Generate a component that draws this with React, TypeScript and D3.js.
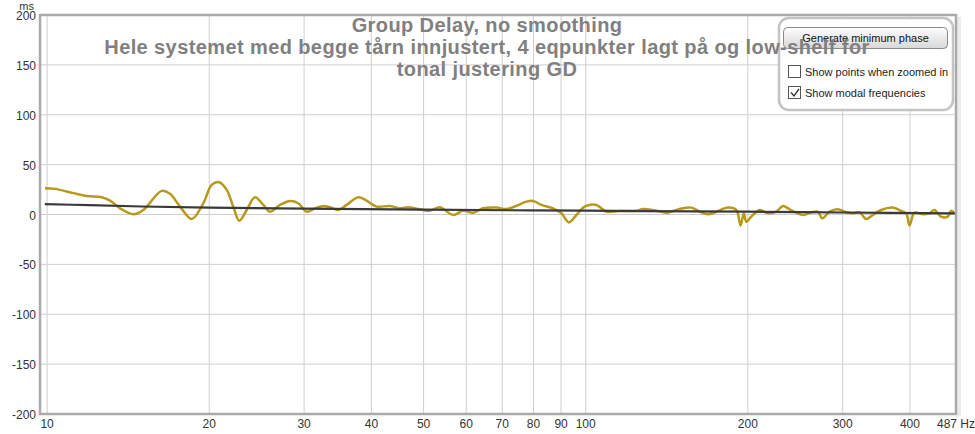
import React from 'react'
import * as d3 from 'd3'

const gdFreq = [
  9.91, 10.35, 11.19, 11.85, 12.63, 13.09, 13.66, 14.46, 15.09, 16.32, 16.91, 17.65, 18.56, 19.5,
  20.21, 20.87, 21.55, 22.16, 22.74, 23.47, 24.32, 25.2, 25.93, 27.06, 28.24, 29.26, 30.33, 31.43,
  32.56, 33.5, 34.71, 35.97, 37.81, 39.19, 40.9, 43.3, 45.19, 46.82, 49.2, 51.36, 53.6, 56.74,
  59.21, 61.79, 64.49, 68.29, 71.27, 74.38, 77.62, 79.83, 82.76, 86.96, 90.14, 93.11, 96.1, 99.57,
  104.7, 109.2, 115.7, 124.2, 127.8, 135.3, 141.2, 149.4, 157.1, 162.8, 168.7, 174.8, 183.7, 190.4,
  193.9, 196.6, 198.7, 203.0, 210.3, 217.9, 225.9, 232.3, 239.1, 246.0, 253.1, 262.3, 269.8, 274.9,
  283.6, 293.8, 304.5, 313.2, 322.3, 331.7, 341.2, 353.7, 371.7, 385.3, 393.6, 399.2, 407.8, 422.5,
  434.7, 444.1, 457.0, 470.1, 477.0, 483.8,
]
const gdMs = [
  26.4, 25.7, 21.4, 18.6, 17.3, 13.9, 6.2, 0.2, 4.5, 23.7, 20.7, 7.9, -4.5, 11.3,
  29.7, 32.4, 24.7, 7.9, -6.2, 4.5, 17.3, 9.6, 2.8, 9.6, 13.6, 11.3, 2.8, 6.2,
  8.6, 7.3, 4.5, 9.6, 17.3, 13.9, 7.9, 8.6, 6.2, 7.3, 5.2, 3.8, 7.3, -0.5,
  3.8, 1.8, 6.2, 6.9, 5.5, 8.6, 12.9, 13.6, 9.6, 6.2, 1.2, -7.9, -0.5, 7.9,
  9.6, 2.8, 3.5, 3.8, 5.5, 3.8, 1.8, 5.5, 6.9, 2.8, 0.2, 2.8, 6.9, 4.5,
  -11, 1.2, -7.3, -2.2, 4.5, 1.2, 2.8, 8.6, 5.2, 1.8, -0.5, 2.2, 2.8, -3.8,
  2.8, 5.2, 2.2, 1.2, 2.2, -4.5, -0.5, 4.5, 6.9, 3.5, 1.2, -11, 1.8, 0.2,
  1.2, 4.5, -2.2, -2.2, 3.8, 1.2,
]

// minimum phase group delay
const mpFreq = [9.9, 12, 15, 20, 30, 50, 100, 200, 300, 487]
const mpMs = [10.5, 9.3, 8, 6.8, 5.8, 4.8, 3.8, 2.8, 2.0, 1.2]

const xTicks = [10, 20, 30, 40, 50, 60, 70, 80, 90, 100, 200, 300, 400, 487]
const yTicks = [-200, -150, -100, -50, 0, 50, 100, 150, 200]
const titleLines = [
  'Group Delay, no smoothing',
  'Hele systemet med begge tårn innjustert, 4 eqpunkter lagt på og low-shelf for',
  'tonal justering GD',
]

const W = 975
const H = 434
const left = 40, right = 956, top = 15, bottom = 414
const font = '"Liberation Sans", Arial, sans-serif'

export default function App() {
  const x = d3.scaleLog().domain([9.7, 487]).range([left, right])
  const y = d3.scaleLinear().domain([-200, 200]).range([bottom, top])

  const line = d3
    .line<[number, number]>()
    .x((d) => x(d[0]))
    .y((d) => y(d[1]))
    .curve(d3.curveCatmullRom.alpha(0.5))

  const gd = gdFreq.map((f, i) => [f, gdMs[i]] as [number, number])
  const mp = mpFreq.map((f, i) => [f, mpMs[i]] as [number, number])

  return (
    <svg
      width={W}
      height={H}
      style={{ position: 'absolute', left: 0, top: 0, background: '#fff' }}
      fontFamily={font}
    >
      <defs>
        <clipPath id="plot">
          <rect x={left} y={top} width={right - left} height={bottom - top} />
        </clipPath>
        <linearGradient id="btn" x1="0" y1="0" x2="0" y2="1">
          <stop offset="0" stopColor="#fdfdfd" />
          <stop offset="1" stopColor="#d8d8d8" />
        </linearGradient>
      </defs>

      {/* grid */}
      {yTicks.map((t) => (
        <line key={'gy' + t} x1={left} x2={right} y1={y(t)} y2={y(t)} stroke="#cfcfcf" />
      ))}
      {xTicks.slice(0, -1).map((t) => (
        <line key={'gx' + t} x1={x(t)} x2={x(t)} y1={top} y2={bottom} stroke="#cfcfcf" />
      ))}

      {/* curves */}
      <g clipPath="url(#plot)" fill="none">
        <path d={line(gd) ?? ''} stroke="#b8991a" strokeWidth={2.5} />
        <path d={line(mp) ?? ''} stroke="#3a3a3a" strokeWidth={2.2} />
      </g>

      {/* frame */}
      <rect x={right + 1} y={top + 2} width={4} height={bottom - top} fill="#ececec" />
      <rect
        x={left}
        y={top}
        width={right - left}
        height={bottom - top}
        fill="none"
        stroke="#aaaaaa"
        strokeWidth={2.5}
      />

      {/* y axis labels */}
      <text x={34} y={10} fontSize={11} fill="#333" textAnchor="end">ms</text>
      {yTicks.map((t) => (
        <text key={'ty' + t} x={36} y={y(t) + 5} fontSize={12} fill="#333" textAnchor="end">
          {t}
        </text>
      ))}

      {/* x axis labels */}
      {xTicks.map((t, i) => (
        <text key={'tx' + t} x={x(t)} y={428} fontSize={12} fill="#333" textAnchor="middle">
          {i === xTicks.length - 1 ? `${t} Hz` : t}
        </text>
      ))}

      {/* control box */}
      <rect x={779} y={18} width={174} height={92} rx={10} fill="#fff" stroke="#c4c4c4" strokeWidth={2.5} />
      <rect x={783.5} y={27.5} width={164} height={21} rx={4} fill="url(#btn)" stroke="#8a8a8a" />
      <text x={865.5} y={42} fontSize={11} fill="#111" textAnchor="middle">
        Generate minimum phase
      </text>
      <rect x={788.5} y={65.5} width={12} height={12} fill="#fff" stroke="#555" />
      <text x={805} y={76} fontSize={11} fill="#222">Show points when zoomed in</text>
      <rect x={788.5} y={86.5} width={12} height={12} fill="#fff" stroke="#555" />
      <path d="M791,92.5 L794,96 L799,89" fill="none" stroke="#333" strokeWidth={1.3} />
      <text x={805} y={97} fontSize={11} fill="#222">Show modal frequencies</text>

      {/* title */}
      {titleLines.map((s, i) => (
        <text
          key={'t' + i}
          x={487}
          y={32 + i * 22}
          fontSize={20}
          letterSpacing={0.4}
          fontWeight="bold"
          fill="#808080"
          textAnchor="middle"
        >
          {s}
        </text>
      ))}
    </svg>
  )
}
